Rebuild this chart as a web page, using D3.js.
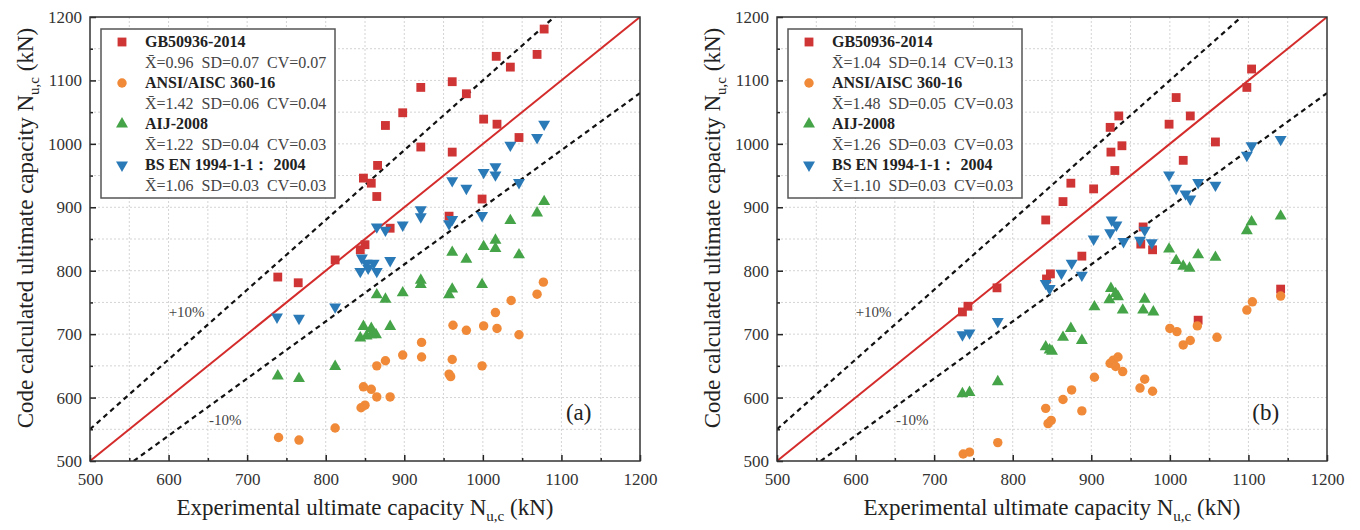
<!DOCTYPE html>
<html>
<head>
<meta charset="utf-8">
<script src="https://cdn.jsdelivr.net/npm/d3@7"></script>
<style>
  body { margin: 0; background: #fff; }
  svg, svg text { font-family: "Liberation Serif", "Times New Roman", serif; }
</style>
</head>
<body>
<svg id="chart" width="1360" height="530"></svg>
<script>
'use strict';

// axis ticks
var majorTicks = [500, 600, 700, 800, 900, 1000, 1100, 1200],
	minorTicks = [550, 650, 750, 850, 950, 1050, 1150],
	gridTicks = [550, 600, 650, 700, 750, 800, 850, 900, 950, 1000, 1050, 1100, 1150];

// legend names
var codeNames = ['GB50936-2014', 'ANSI/AISC 360-16', 'AIJ-2008', 'BS EN 1994-1-1\uFF1A 2004'];

// stats per panel: [mean, SD, CV]
var statsA = [[0.96, 0.07, 0.07], [1.42, 0.06, 0.04], [1.22, 0.04, 0.03], [1.06, 0.03, 0.03]],
	statsB = [[1.04, 0.14, 0.13], [1.48, 0.05, 0.03], [1.26, 0.03, 0.03], [1.10, 0.03, 0.03]];

// panel (a) points [experimental, calculated]
var gbA = [[739, 790], [765, 781], [812, 817], [844, 833], [850, 841], [882, 867], [848, 946], [858, 938],
	[865, 917], [866, 966], [876, 1029], [898, 1049], [921, 1089], [921, 995], [961, 1098], [961, 987],
	[957, 886], [979, 1079], [1001, 1039], [999, 913], [1018, 1031], [1017, 1138], [1035, 1121],
	[1046, 1010], [1069, 1141], [1078, 1181]];
var aiscA = [[740, 537], [766, 533], [812, 552], [845, 584], [850, 588], [848, 617], [858, 613],
	[865, 601], [882, 601], [865, 650], [876, 658], [898, 667], [922, 664], [922, 687], [957, 637],
	[959, 633], [961, 660], [962, 714], [979, 706], [999, 650], [1001, 713], [1018, 709], [1016, 734],
	[1036, 753], [1046, 699], [1069, 763], [1077, 782]];
var aijA = [[739, 634], [766, 630], [812, 649], [844, 694], [852, 697], [858, 699], [864, 699],
	[848, 712], [858, 709], [882, 712], [865, 762], [876, 755], [898, 765], [921, 785], [921, 778],
	[957, 762], [961, 771], [961, 829], [979, 818], [999, 778], [1001, 838], [1016, 848], [1016, 835],
	[1035, 879], [1046, 825], [1069, 891], [1078, 909]];
var bsA = [[738, 727], [766, 725], [812, 743], [846, 820], [852, 812], [861, 812], [844, 799],
	[865, 799], [854, 804], [882, 816], [865, 869], [876, 864], [898, 872], [921, 896], [921, 885],
	[957, 874], [961, 881], [961, 942], [979, 930], [999, 887], [1001, 955], [1016, 964], [1016, 951],
	[1035, 998], [1046, 939], [1069, 1010], [1078, 1031]];

// panel (b) points [experimental, calculated]
var gbB = [[736, 735], [743, 744], [780, 773], [843, 787], [848, 795], [888, 823], [842, 880],
	[864, 909], [874, 938], [903, 929], [924, 1026], [935, 1044], [925, 987], [939, 997], [930, 958],
	[963, 842], [966, 869], [978, 833], [999, 1031], [1008, 1073], [1017, 974], [1026, 1044],
	[1036, 722], [1058, 1003], [1098, 1089], [1104, 1118], [1141, 771]];
var aiscB = [[737, 511], [745, 514], [781, 529], [845, 559], [849, 564], [842, 583], [864, 597],
	[875, 612], [888, 579], [904, 632], [924, 654], [928, 659], [934, 664], [931, 649], [940, 641],
	[962, 615], [968, 629], [978, 610], [1000, 709], [1009, 704], [1017, 683], [1026, 690], [1035, 713],
	[1060, 695], [1098, 738], [1105, 751], [1141, 760]];
var aijB = [[736, 606], [745, 608], [781, 625], [842, 680], [847, 675], [850, 673], [864, 695],
	[874, 709], [888, 690], [904, 743], [923, 754], [925, 772], [931, 764], [934, 759], [940, 738],
	[966, 738], [968, 755], [979, 735], [999, 834], [1008, 816], [1017, 807], [1025, 804], [1036, 825],
	[1058, 821], [1098, 863], [1104, 877], [1141, 886]];
var bsB = [[736, 699], [745, 702], [781, 720], [842, 780], [847, 772], [862, 796], [875, 812],
	[888, 793], [903, 850], [924, 860], [926, 880], [932, 872], [941, 846], [962, 848], [968, 864],
	[977, 844], [999, 951], [1008, 930], [1020, 921], [1026, 913], [1036, 939], [1058, 935],
	[1098, 982], [1104, 997], [1141, 1007]];

var svg = d3.select('#chart'),
	serif = '"Liberation Serif", "Times New Roman", serif',
	colors = ['#cf3535', '#f08a38', '#45a348', '#2a7ab8'],
	shapes = [d3.symbolSquare, d3.symbolCircle, d3.symbolTriangle, d3.symbolTriangle],
	sizes = [78, 70, 62, 62],
	rotations = [0, 0, 0, 180],
	W = 550, H = 444;

function marker(sel, i, x, y) {
	sel.append('path')
		.attr('d', d3.symbol().type(shapes[i]).size(sizes[i])())
		.attr('transform', 'translate(' + x + ',' + y + ') rotate(' + rotations[i] + ')')
		.attr('fill', colors[i]);
}

function statText(s) {
	return 'X\u0304=' + s[0].toFixed(2) + '  SD=' + s[1].toFixed(2) + '  CV=' + s[2].toFixed(2);
}

function drawPanel(left, series, stats, tag) {
	var x = d3.scaleLinear().domain([500, 1200]).range([0, W]),
		y = d3.scaleLinear().domain([500, 1200]).range([H, 0]),
		g = svg.append('g').attr('transform', 'translate(' + left + ',17)'),
		clipId = 'clip' + tag;

	g.append('clipPath').attr('id', clipId)
		.append('rect').attr('width', W).attr('height', H);

	//grid
	g.selectAll('.vg').data(gridTicks).enter().append('line')
		.attr('x1', function(d) { return x(d); }).attr('x2', function(d) { return x(d); })
		.attr('y1', 0).attr('y2', H)
		.attr('stroke', '#d4d4d4').attr('stroke-dasharray', '2,2').attr('stroke-width', 1);
	g.selectAll('.hg').data(gridTicks).enter().append('line')
		.attr('y1', function(d) { return y(d); }).attr('y2', function(d) { return y(d); })
		.attr('x1', 0).attr('x2', W)
		.attr('stroke', '#d4d4d4').attr('stroke-dasharray', '2,2').attr('stroke-width', 1);

	//reference lines
	var lines = g.append('g').attr('clip-path', 'url(#' + clipId + ')');
	lines.append('line')
		.attr('x1', x(500)).attr('y1', y(500)).attr('x2', x(1200)).attr('y2', y(1200))
		.attr('stroke', '#d42b2b').attr('stroke-width', 2);
	[1.1, 0.9].forEach(function(k) {
		lines.append('line')
			.attr('x1', x(500)).attr('y1', y(500 * k)).attr('x2', x(1200)).attr('y2', y(1200 * k))
			.attr('stroke', '#111').attr('stroke-width', 2.2).attr('stroke-dasharray', '5,4');
	});

	//points
	var pts = g.append('g');
	series.forEach(function(data, i) {
		data.forEach(function(d) { marker(pts, i, x(d[0]), y(d[1])); });
	});

	//axes
	var fmt = d3.format('d');
	var ax = g.append('g').attr('transform', 'translate(0,' + H + ')')
		.call(d3.axisBottom(x).tickValues(majorTicks).tickFormat(fmt)
			.tickSizeInner(-6).tickSizeOuter(0).tickPadding(12));
	g.append('g').attr('transform', 'translate(0,' + H + ')')
		.call(d3.axisBottom(x).tickValues(minorTicks).tickSizeInner(-3).tickSizeOuter(0).tickFormat(''));
	var ay = g.append('g')
		.call(d3.axisLeft(y).tickValues(majorTicks).tickFormat(fmt)
			.tickSizeInner(-6).tickSizeOuter(0).tickPadding(8));
	g.append('g')
		.call(d3.axisLeft(y).tickValues(minorTicks).tickSizeInner(-3).tickSizeOuter(0).tickFormat(''));
	g.selectAll('.domain').remove();
	g.selectAll('.tick line').attr('stroke', '#222').attr('stroke-width', 1.5);
	[ax, ay].forEach(function(a) {
		a.attr('font-family', serif).attr('font-size', 17);
		a.selectAll('text').attr('fill', '#333');
	});

	g.append('rect').attr('width', W).attr('height', H)
		.attr('fill', 'none').attr('stroke', '#333').attr('stroke-width', 1.5);

	//line labels
	g.append('text').attr('x', x(623)).attr('y', y(727)).attr('font-size', 15).attr('fill', '#444')
		.attr('text-anchor', 'middle').text('+10%');
	g.append('text').attr('x', x(672)).attr('y', y(557)).attr('font-size', 15).attr('fill', '#444')
		.attr('text-anchor', 'middle').text('-10%');
	g.append('text').attr('x', x(1122)).attr('y', y(564)).attr('font-size', 23).attr('fill', '#222')
		.attr('text-anchor', 'middle').text('(' + tag + ')');

	//legend
	var lg = g.append('g').attr('transform', 'translate(11,12)');
	lg.append('rect').attr('width', 234).attr('height', 169)
		.attr('fill', '#fff').attr('stroke', '#555').attr('stroke-width', 1.5);
	codeNames.forEach(function(name, i) {
		var cy = 13 + i * 41;
		marker(lg, i, 21, cy);
		lg.append('text').attr('x', 44).attr('y', cy + 5).attr('font-size', 16)
			.attr('font-weight', 'bold').attr('fill', '#222').text(name);
		lg.append('text').attr('x', 44).attr('y', cy + 26).attr('font-size', 16)
			.attr('fill', '#444').style('white-space', 'pre').text(statText(stats[i]));
	});

	//axis titles
	var xt = svg.append('text').attr('x', left + W / 2).attr('y', 515)
		.attr('text-anchor', 'middle').attr('font-size', 23).attr('fill', '#222');
	xt.append('tspan').text('Experimental ultimate capacity N');
	xt.append('tspan').attr('font-size', 15).attr('dy', 6).text('u,c');
	xt.append('tspan').attr('dy', -6).text(' (kN)');

	var yt = svg.append('text')
		.attr('transform', 'translate(' + (left - 57) + ',228) rotate(-90)')
		.attr('text-anchor', 'middle').attr('font-size', 23).attr('fill', '#222');
	yt.append('tspan').text('Code calculated ultimate capacity N');
	yt.append('tspan').attr('font-size', 15).attr('dy', 6).text('u,c');
	yt.append('tspan').attr('dy', -6).text(' (kN)');
}

drawPanel(90, [gbA, aiscA, aijA, bsA], statsA, 'a');
drawPanel(777, [gbB, aiscB, aijB, bsB], statsB, 'b');
</script>
</body>
</html>
